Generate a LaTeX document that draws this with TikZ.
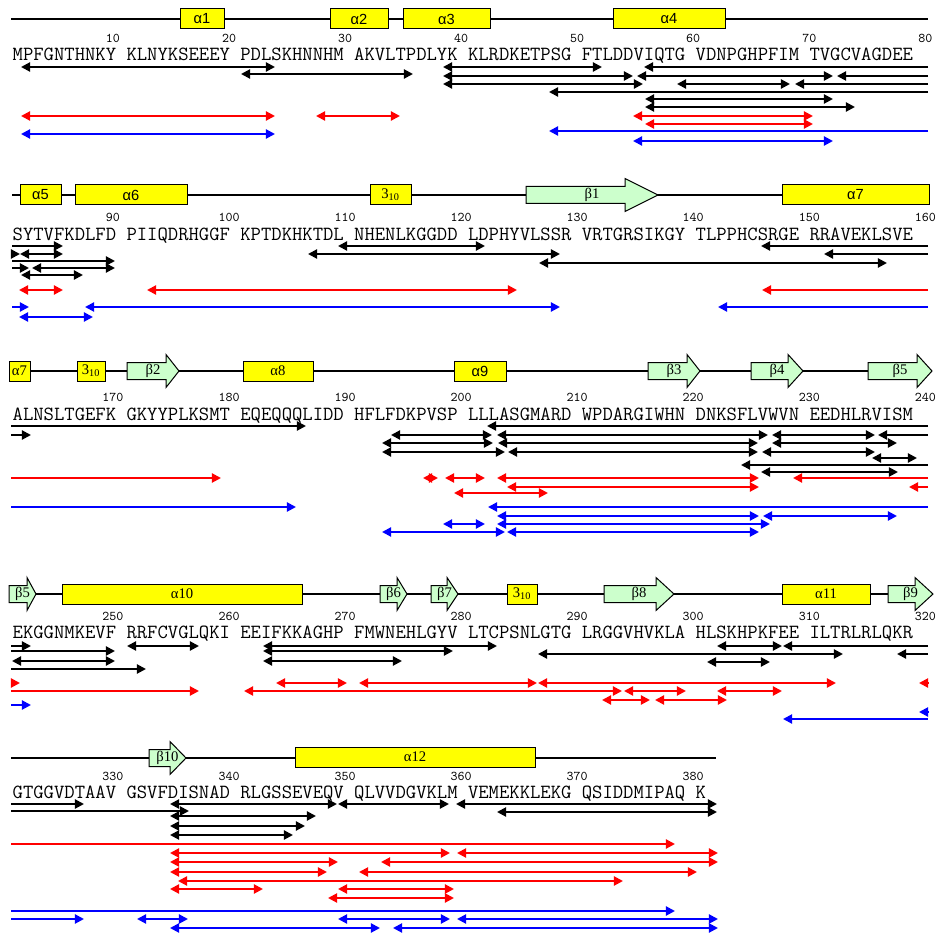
\documentclass[tikz,border=0pt]{standalone}
\usepackage{fontspec}
\setmainfont{Liberation Serif}
\newfontfamily\labsans{Liberation Sans}
\usetikzlibrary{arrows.meta}
\definecolor{helixYellow}{RGB}{255,255,0}
\definecolor{strandGreen}{RGB}{204,255,204}
\definecolor{xlRed}{RGB}{255,0,0}
\definecolor{xlBlue}{RGB}{0,0,255}

% helix box: x1, x2, y, label
\newcommand{\helixbox}[4]{%
  \draw[helix] (#1,#3-10) rectangle (#2,#3+10);
  \node[sslab] at ({(#1+#2)/2},#3) {#4};}
% strand arrow: x1, body end, tip, y, label
\newcommand{\strandarrow}[5]{%
  \draw[strand] (#1,#4-8.5) -- (#2,#4-8.5) -- (#2,#4-16.5) -- (#3,#4)
    -- (#2,#4+16.5) -- (#2,#4+8.5) -- (#1,#4+8.5) -- cycle;
  \node[sslab] at ({(#1+#3)/2},#4) {#5};}
% residue numbers: offset, count, baseline
\newcommand{\resticks}[3]{%
  \foreach \j in {1,...,#2}{%
    \pgfmathtruncatemacro{\lbl}{#1+10*\j}
    \node[num] (r\lbl) at ({18+(11*\j-2)*10.55},#3) {\lbl};}}

\begin{document}
\begin{tikzpicture}[
    x=0.75pt,y=-0.75pt,
    >={Triangle[length=6.8pt,width=6.8pt]},
    backbone/.style={draw=black,line width=0.8pt},
    helix/.style={draw=black,line width=0.75pt,fill=helixYellow},
    strand/.style={draw=black,line width=0.75pt,fill=strandGreen,line join=miter},
    sslab/.style={font=\fontsize{11pt}{12pt}\selectfont,inner sep=0pt},
    seq/.style={font=\ttfamily\fontsize{15.07pt}{17pt}\selectfont,inner sep=0pt,outer sep=0pt,anchor=base west},
    num/.style={font=\ttfamily\fontsize{10pt}{11pt}\selectfont,inner sep=0pt,anchor=base},
    bk/.style={line width=1.5pt,black},
    rd/.style={line width=1.5pt,xlRed},
    bl/.style={line width=1.5pt,xlBlue}
  ]
  \useasboundingbox (0,0) rectangle (939,934);

  % 1-80
  \draw[backbone] (11,19) -- (928,19);
  \helixbox{180}{224}{19}{\labsans α1}
  \helixbox{330}{388}{19}{\labsans α2}
  \helixbox{403}{490}{19}{\labsans α3}
  \helixbox{613}{725}{19}{\labsans α4}
  \resticks{0}{8}{43}
  \node[seq] (seq1) at (12.7,61) {MPFGNTHNKY KLNYKSEEEY PDLSKHNNHM AKVLTPDLYK KLRDKETPSG FTLDDVIQTG VDNPGHPFIM TVGCVAGDEE};
  \foreach \y/\a/\b in {67/21/275,67/443/602,74/241/413,76/443/633,76/637/833,84/443/643,84/677/790,99/645/833,107/645/855}
    \draw[bk,<->] (\a,\y) -- (\b,\y);
  \foreach \y/\a/\b in {67/928/644,76/928/837,84/928/795,92/928/549}
    \draw[bk,->] (\a,\y) -- (\b,\y);
  \foreach \y/\a/\b in {116/21/275,116/316/400,116/633/813,124/645/813}
    \draw[rd,<->] (\a,\y) -- (\b,\y);
  \foreach \y/\a/\b in {134/21/275,141/633/833}
    \draw[bl,<->] (\a,\y) -- (\b,\y);
  \draw[bl,->] (928,131) -- (549,131);

  % 81-160
  \draw[backbone] (12,195) -- (928,195);
  \helixbox{20}{61}{195}{\labsans α5}
  \helixbox{75}{187}{195}{\labsans α6}
  \helixbox{370}{411}{195}{3\textsubscript{10}}
  \strandarrow{526}{625}{658}{195}{β1}
  \helixbox{782}{929}{195}{\labsans α7}
  \resticks{80}{8}{222}
  \node[seq] (seq2) at (12.7,241) {SYTVFKDLFD PIIQDRHGGF KPTDKHKTDL NHENLKGGDD LDPHYVLSSR VRTGRSIKGY TLPPHCSRGE RRAVEKLSVE};
  \foreach \y/\a/\b in {254/20/63,254/308/560,246/338/485,268/32/115,275/21/83,263/539/887}
    \draw[bk,<->] (\a,\y) -- (\b,\y);
  \foreach \y/\a/\b in {246/12/63,254/11/20,261/12/115,268/12/29,246/928/761,254/928/824}
    \draw[bk,->] (\a,\y) -- (\b,\y);
  \foreach \y/\a/\b in {290/19/63,290/147/517}
    \draw[rd,<->] (\a,\y) -- (\b,\y);
  \draw[rd,->] (928,290) -- (762,290);
  \foreach \y/\a/\b in {307/12/29,307/928/718}
    \draw[bl,->] (\a,\y) -- (\b,\y);
  \foreach \y/\a/\b in {307/85/560,317/19/93}
    \draw[bl,<->] (\a,\y) -- (\b,\y);

  % 161-240
  \draw[backbone] (11,371) -- (928,371);
  \helixbox{9}{30}{371}{α7}
  \helixbox{77}{105}{371}{3\textsubscript{10}}
  \strandarrow{127}{166}{179}{371}{β2}
  \helixbox{243}{313}{371}{α8}
  \helixbox{454}{506}{371}{\labsans α9}
  \strandarrow{648}{687}{700}{371}{β3}
  \strandarrow{751}{788}{803}{371}{β4}
  \strandarrow{868}{917}{932}{371}{β5}
  \resticks{160}{8}{401}
  \node[seq] (seq3) at (12.7,420) {ALNSLTGEFK GKYYPLKSMT EQEQQQLIDD HFLFDKPVSP LLLASGMARD WPDARGIWHN DNKSFLVWVN EEDHLRVISM};
  \foreach \y/\a/\b in {426/11/306,435/11/31,426/928/487,435/928/878,465/928/741}
    \draw[bk,->] (\a,\y) -- (\b,\y);
  \foreach \y/\a/\b in {435/391/492,435/497/768,435/772/875,443/382/493,443/498/758,443/772/897,
                        452/382/505,452/508/758,452/762/875,458/872/917,472/761/898}
    \draw[bk,<->] (\a,\y) -- (\b,\y);
  \foreach \y/\a/\b in {478/11/221,478/928/793,487/928/909}
    \draw[rd,->] (\a,\y) -- (\b,\y);
  \foreach \y/\a/\b in {478/423/438,478/445/485,478/497/759,487/507/759,493/454/548}
    \draw[rd,<->] (\a,\y) -- (\b,\y);
  \foreach \y/\a/\b in {507/11/296,507/928/488}
    \draw[bl,->] (\a,\y) -- (\b,\y);
  \foreach \y/\a/\b in {524/443/485,516/497/759,516/763/897,524/497/770,532/382/505,532/507/759}
    \draw[bl,<->] (\a,\y) -- (\b,\y);

  % 241-320
  \draw[backbone] (11,594) -- (928,594);
  \strandarrow{9}{27}{36}{594}{β5}
  \helixbox{62}{302}{594}{α10}
  \strandarrow{380}{397}{407}{594}{β6}
  \strandarrow{431}{447}{458}{594}{β7}
  \helixbox{507}{537}{594}{3\textsubscript{10}}
  \strandarrow{604}{656}{674}{594}{β8}
  \helixbox{782}{870}{594}{α11}
  \strandarrow{888}{915}{933}{594}{β9}
  \resticks{240}{8}{620}
  \node[seq] (seq4) at (12.7,638) {EKGGNMKEVF RRFCVGLQKI EEIFKKAGHP FMWNEHLGYV LTCPSNLGTG LRGGVHVKLA HLSKHPKFEE ILTRLRLQKR};
  \foreach \y/\a/\b in {646/11/31,651/11/115,669/11/146,646/928/783,654/928/897}
    \draw[bk,->] (\a,\y) -- (\b,\y);
  \foreach \y/\a/\b in {646/127/199,646/263/497,646/717/782,651/263/453,661/12/115,661/263/402,654/538/843,662/707/770}
    \draw[bk,<->] (\a,\y) -- (\b,\y);
  \foreach \y/\a/\b in {683/11/20,683/928/919,691/11/199}
    \draw[rd,->] (\a,\y) -- (\b,\y);
  \foreach \y/\a/\b in {683/276/347,683/359/537,683/538/836,691/244/622,691/624/686,691/717/782,700/602/650,700/655/727}
    \draw[rd,<->] (\a,\y) -- (\b,\y);
  \foreach \y/\a/\b in {705/11/31,712/928/919,719/928/783}
    \draw[bl,->] (\a,\y) -- (\b,\y);

  % 321-381
  \draw[backbone] (11,758) -- (716,758);
  \strandarrow{149}{170}{186}{758}{β10}
  \helixbox{295}{535}{757}{α12}
  \resticks{320}{6}{780}
  \node[seq] (seq5) at (12.7,798) {GTGGVDTAAV GSVFDISNAD RLGSSEVEQV QLVVDGVKLM VEMEKKLEKG QSIDDMIPAQ K};
  \foreach \y/\a/\b in {804/11/84,811/11/189}
    \draw[bk,->] (\a,\y) -- (\b,\y);
  \foreach \y/\a/\b in {804/170/337,804/338/449,804/456/717,812/497/717,816/170/316,826/170/305,835/170/293}
    \draw[bk,<->] (\a,\y) -- (\b,\y);
  \draw[rd,->] (11,844) -- (675,844);
  \foreach \y/\a/\b in {853/170/450,853/457/718,862/170/338,862/381/718,872/170/327,872/359/697,
                        881/178/623,889/170/263,889/338/454,898/328/454}
    \draw[rd,<->] (\a,\y) -- (\b,\y);
  \foreach \y/\a/\b in {911/11/675,919/11/84}
    \draw[bl,->] (\a,\y) -- (\b,\y);
  \foreach \y/\a/\b in {919/137/188,919/338/450,919/457/718,928/170/380,928/393/718}
    \draw[bl,<->] (\a,\y) -- (\b,\y);
\end{tikzpicture}
\end{document}
